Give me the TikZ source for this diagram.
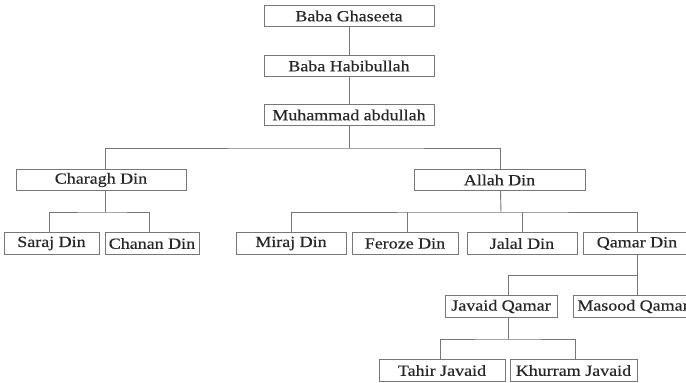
\documentclass[tikz,border=0pt]{standalone}
\usepackage{fontspec}
\setmainfont{Liberation Serif}[FakeStretch=1.16, FakeBold=0.35]
\usepackage{xcolor}
\usepackage{tikz}
\usetikzlibrary{positioning,calc}

\definecolor{boxgray}{HTML}{777777}
\definecolor{linegray}{HTML}{777777}
\definecolor{txtgray}{HTML}{262626}

\tikzset{
    person/.style={draw=boxgray, line width=0.9pt, text=txtgray, inner sep=0pt,
        minimum height=21.5pt, font=\fontsize{15.5}{16}\selectfont},
    link/.style={draw=linegray, line width=0.9pt}
}

\begin{document}
\begin{tikzpicture}[x=1pt, y=-1pt]
    \clip (0,0) rectangle (686,383);
    \fill[white] (0,0) rectangle (686,383);

    % Ancestors
    \node[person, minimum width=170pt] (ghaseeta) at (349,16) {Baba Ghaseeta};
    \node[person, minimum width=170pt] (habib) at (349,66) {Baba Habibullah};
    \node[person, minimum width=170pt] (abdullah) at (349,115) {Muhammad abdullah};
    \draw[link] (ghaseeta.south) -- (habib.north);
    \draw[link] (habib.south) -- (abdullah.north);

    % Sons of Muhammad abdullah
    \node[person, minimum width=170pt] (charagh) at (101,180) {Charagh Din};
    \node[person, minimum width=171pt] (allah) at (499.5,180) {Allah Din};
    \coordinate (bar1) at (349,148);
    \draw[link] (abdullah.south) -- (bar1);
    \draw[link] ([xshift=4pt]charagh.north) |- (bar1) -| ([xshift=1pt]allah.north);

    % Sons of Charagh Din
    \node[person, minimum width=95pt] (saraj) at (51.5,243.5) {Saraj Din};
    \node[person, minimum width=94pt] (chanan) at (152,243.5) {Chanan Din};
    \coordinate (bar2) at (105,212);
    \draw[link] ([xshift=4pt]charagh.south) -- (bar2);
    \draw[link] ([xshift=-2pt]saraj.north) |- (bar2) -| ([xshift=-3pt]chanan.north);

    % Sons of Allah Din
    \node[person, minimum width=110pt] (miraj) at (291,243.5) {Miraj Din};
    \node[person, minimum width=106pt] (feroze) at (405,243.5) {Feroze Din};
    \node[person, minimum width=110pt] (jalal) at (522,243.5) {Jalal Din};
    \node[person, minimum width=108pt] (qamar) at (637,243.5) {Qamar Din};
    \coordinate (bar3) at (501,212);
    \draw[link] ([xshift=1pt]allah.south) -- (bar3);
    \draw[link] (miraj.north) |- (bar3) -| (qamar.north);
    \draw[link] ([xshift=2pt]feroze.north) -- ([xshift=2pt]feroze.north |- bar3);
    \draw[link] (jalal.north) -- (jalal.north |- bar3);

    % Sons of Qamar Din
    \node[person, minimum width=112pt] (javaid) at (501,306.5) {Javaid Qamar};
    \node[person, minimum width=120pt] (masood) at (633,306.5) {Masood Qamar};
    \coordinate (bar4) at (637,275);
    \draw[link] (qamar.south) -- (bar4);
    \draw[link] ([xshift=7pt]javaid.north) |- (bar4) -| ([xshift=4pt]masood.north);

    % Sons of Javaid Qamar
    \node[person, minimum width=126pt] (tahir) at (442,370.5) {Tahir Javaid};
    \node[person, minimum width=127pt] (khurram) at (573.5,370.5) {Khurram Javaid};
    \coordinate (bar5) at (508,339);
    \draw[link] ([xshift=7pt]javaid.south) -- (bar5);
    \draw[link] ([xshift=-2pt]tahir.north) |- (bar5) -| ([xshift=1.5pt]khurram.north);
\end{tikzpicture}
\end{document}
